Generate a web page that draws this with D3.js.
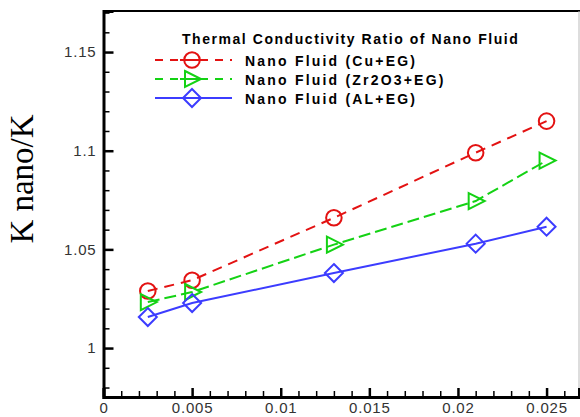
<!DOCTYPE html>
<html>
<head>
<meta charset="utf-8">
<script src="https://cdn.jsdelivr.net/npm/d3@7/dist/d3.min.js"></script>
<style>
  body { margin: 0; background: #fff; }
  svg { display: block; }
  .tick text { font-family: Arial, "Liberation Sans", sans-serif; font-size: 15px; fill: #333; letter-spacing: 0.8px; }
</style>
</head>
<body>
<svg id="chart"></svg>
<script>
var fraction = [0.0025, 0.005, 0.013, 0.021, 0.025];
var cuEG = [1.0289, 1.0344, 1.066, 1.099, 1.115];
var zrEG = [1.0233, 1.0284, 1.0524, 1.0745, 1.095];
var alEG = [1.0157, 1.0228, 1.038, 1.0529, 1.0615];
var seriesNames = ['Nano Fluid (Cu+EG)', 'Nano Fluid (Zr2O3+EG)', 'Nano Fluid (AL+EG)'];
var xTicks = [0, 0.005, 0.01, 0.015, 0.02, 0.025];
var yTicks = [1, 1.05, 1.1, 1.15];
var legendTitle = 'Thermal Conductivity Ratio of Nano Fluid';
var yLabel = 'K nano/K';

var width = 580, height = 417;
var svg = d3.select('#chart').attr('width', width).attr('height', height);

var x = d3.scaleLinear().domain([0, 0.02683]).range([103.5, 579]);
var y = d3.scaleLinear().domain([0.9752, 1.1708]).range([397, 11]);

var series = [
  {name: seriesNames[0], values: cuEG, color: '#e31212', dash: '10,7', marker: 'circle'},
  {name: seriesNames[1], values: zrEG, color: '#14d214', dash: '12,5', marker: 'triangle'},
  {name: seriesNames[2], values: alEG, color: '#3c3cff', dash: null, marker: 'diamond'}
];

function markerPath(type) {
  if (type === 'circle') return d3.symbol().type(d3.symbolCircle).size(190)();
  if (type === 'triangle') return 'M-7,-8L9,0L-7,8Z';
  return 'M0,-9L9,0L0,9L-9,0Z';
}

// frame: top and right edges
svg.append('line').attr('x1', x.range()[0]).attr('x2', width).attr('y1', 11).attr('y2', 11)
  .attr('stroke', '#000').attr('stroke-width', 2);
svg.append('line').attr('x1', 579).attr('x2', 579).attr('y1', 11).attr('y2', 397)
  .attr('stroke', '#bbb').attr('stroke-width', 1);

// minor ticks
var yMinor = d3.range(0.98, 1.1701, 0.01).filter(function(v) {
  return yTicks.every(function(t) { return Math.abs(t - v) > 1e-6; });
});
var xMinor = d3.range(0.001, 0.0265, 0.001).filter(function(v) {
  return xTicks.every(function(t) { return Math.abs(t - v) > 1e-7; });
});

svg.append('g').attr('transform', 'translate(' + x.range()[0] + ',0)')
  .call(d3.axisLeft(y).tickValues(yMinor).tickSize(-6).tickFormat(''))
  .call(function(g) { g.select('.domain').remove(); g.selectAll('line').attr('stroke-width', 1.5); });
svg.append('g').attr('transform', 'translate(0,' + y.range()[0] + ')')
  .call(d3.axisBottom(x).tickValues(xMinor).tickSize(-6).tickFormat(''))
  .call(function(g) { g.select('.domain').remove(); g.selectAll('line').attr('stroke-width', 1.5); });

// major axes
var yAxis = svg.append('g').attr('transform', 'translate(' + x.range()[0] + ',0)')
  .call(d3.axisLeft(y).tickValues(yTicks).tickSize(-10).tickPadding(7).tickFormat(d3.format('')));
yAxis.select('.domain').attr('stroke-width', 3);
yAxis.selectAll('line').attr('stroke-width', 2.5);

var xAxis = svg.append('g').attr('transform', 'translate(0,' + y.range()[0] + ')')
  .call(d3.axisBottom(x).tickValues(xTicks).tickSize(-9).tickPadding(5).tickFormat(d3.format('')));
xAxis.select('.domain').attr('stroke-width', 3);
xAxis.selectAll('line').attr('stroke-width', 2.5);
xAxis.selectAll('text').attr('y', 5);

// y label
svg.append('text')
  .attr('transform', 'translate(33,179) rotate(-90)')
  .attr('text-anchor', 'middle')
  .style('font-family', '"Liberation Serif", "Times New Roman", serif')
  .style('font-size', '33px')
  .text(yLabel);

// series lines and markers
var line = d3.line().x(function(d) { return x(d[0]); }).y(function(d) { return y(d[1]); });
series.forEach(function(s) {
  var pts = fraction.map(function(f, i) { return [f, s.values[i]]; });
  var g = svg.append('g');
  g.append('path').attr('d', line(pts)).attr('fill', 'none')
    .attr('stroke', s.color).attr('stroke-width', 2)
    .attr('stroke-dasharray', s.dash);
  g.selectAll('path.mk').data(pts).enter().append('path').attr('class', 'mk')
    .attr('transform', function(d) { return 'translate(' + x(d[0]) + ',' + y(d[1]) + ')'; })
    .attr('d', markerPath(s.marker))
    .attr('fill', 'none').attr('stroke', s.color).attr('stroke-width', 2);
});

// legend
var legend = svg.append('g');
legend.append('text').attr('x', 182).attr('y', 44)
  .style('font-family', 'Arial, "Liberation Sans", sans-serif')
  .style('font-size', '14px').style('font-weight', 'bold').style('letter-spacing', '1.55px')
  .text(legendTitle);
var legendY = [60, 79, 98];
series.forEach(function(s, i) {
  var row = legend.append('g').attr('transform', 'translate(0,' + legendY[i] + ')');
  row.append('line').attr('x1', 155).attr('x2', 232).attr('y1', 0).attr('y2', 0)
    .attr('stroke', s.color).attr('stroke-width', 2).attr('stroke-dasharray', s.dash ? '8,7' : null);
  row.append('path').attr('transform', 'translate(192,0)').attr('d', markerPath(s.marker))
    .attr('fill', '#fff').attr('stroke', s.color).attr('stroke-width', 2);
  row.append('line').attr('x1', 180).attr('x2', 204).attr('y1', 0).attr('y2', 0)
    .attr('stroke', s.color).attr('stroke-width', 2);
  row.append('text').attr('x', 245).attr('y', 6)
    .style('font-family', 'Arial, "Liberation Sans", sans-serif')
    .style('font-size', '14px').style('font-weight', 'bold').style('letter-spacing', '2.2px')
    .text(s.name);
});
</script>
</body>
</html>
